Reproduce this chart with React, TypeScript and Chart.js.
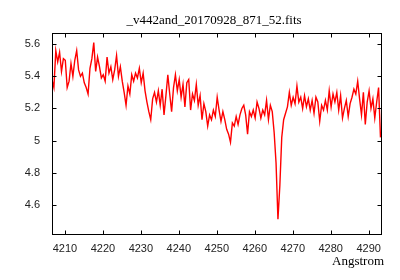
import React, { useEffect, useRef } from "react";
import { Chart, registerables } from "chart.js";

Chart.register(...registerables);

const titleText = "_v442and_20170928_871_52.fits";
const xAxisLabel = "Angstrom";

const wavelengths = [
  4206.6, 4207.1, 4207.6, 4208.1, 4208.6, 4209.1, 4209.6, 4210.1, 4210.6, 4211.1,
  4211.6, 4212.1, 4212.6, 4213.1, 4213.6, 4214.1, 4214.6, 4215.1, 4215.6, 4216.1,
  4216.6, 4217.1, 4217.6, 4218.1, 4218.6, 4219.1, 4219.6, 4220.1, 4220.6, 4221.1,
  4221.6, 4222.1, 4222.6, 4223.1, 4223.6, 4224.1, 4224.6, 4225.1, 4225.6, 4226.1,
  4226.6, 4227.1, 4227.6, 4228.1, 4228.6, 4229.1, 4229.6, 4230.1, 4230.6, 4231.1,
  4231.6, 4232.1, 4232.6, 4233.1, 4233.6, 4234.1, 4234.6, 4235.1, 4235.6, 4236.1,
  4236.6, 4237.1, 4237.6, 4238.1, 4238.6, 4239.1, 4239.6, 4240.1, 4240.6, 4241.1,
  4241.6, 4242.1, 4242.6, 4243.1, 4243.6, 4244.1, 4244.6, 4245.1, 4245.6, 4246.1,
  4246.6, 4247.1, 4247.6, 4248.1, 4248.6, 4249.1, 4249.6, 4250.1, 4250.6, 4251.1,
  4251.6, 4252.1, 4252.6, 4253.1, 4253.6, 4254.1, 4254.6, 4255.1, 4255.6, 4256.1,
  4256.6, 4257.1, 4257.6, 4258.1, 4258.6, 4259.1, 4259.6, 4260.1, 4260.6, 4261.1,
  4261.6, 4262.1, 4262.6, 4263.1, 4263.6, 4264.1, 4264.6, 4265.1, 4265.6, 4266.1,
  4266.6, 4267.1, 4267.6, 4268.1, 4268.6, 4269.1, 4269.6, 4270.1, 4270.6, 4271.1,
  4271.6, 4272.1, 4272.6, 4273.1, 4273.6, 4274.1, 4274.6, 4275.1, 4275.6, 4276.1,
  4276.6, 4277.1, 4277.6, 4278.1, 4278.6, 4279.1, 4279.6, 4280.1, 4280.6, 4281.1,
  4281.6, 4282.1, 4282.6, 4283.1, 4283.6, 4284.1, 4284.6, 4285.1, 4285.6, 4286.1,
  4286.6, 4287.1, 4287.6, 4288.1, 4288.6, 4289.1, 4289.6, 4290.1, 4290.6, 4291.1,
  4291.6, 4292.1, 4292.6, 4293.1,
];

const flux = [
  5.38, 5.33, 5.56, 5.49, 5.55, 5.43, 5.51, 5.5, 5.33, 5.37,
  5.48, 5.4, 5.5, 5.56, 5.44, 5.4, 5.42, 5.36, 5.33, 5.29,
  5.45, 5.51, 5.61, 5.43, 5.52, 5.46, 5.39, 5.41, 5.37, 5.52,
  5.42, 5.46, 5.38, 5.44, 5.53, 5.4, 5.46, 5.37, 5.3, 5.22,
  5.34, 5.29, 5.41, 5.37, 5.42, 5.39, 5.45, 5.36, 5.42, 5.31,
  5.24, 5.18, 5.13, 5.26, 5.3, 5.24, 5.31, 5.22, 5.32, 5.16,
  5.28, 5.41, 5.29, 5.18, 5.33, 5.41, 5.31, 5.38, 5.27, 5.35,
  5.21, 5.36, 5.38, 5.19, 5.29, 5.25, 5.35, 5.22, 5.28, 5.13,
  5.23, 5.18, 5.09, 5.16, 5.13, 5.19, 5.15, 5.27, 5.19, 5.12,
  5.18, 5.13, 5.07, 5.04, 4.99, 5.11, 5.09, 5.15, 5.1, 5.16,
  5.2, 5.22, 5.16, 5.04, 5.18, 5.15, 5.19, 5.14, 5.24, 5.2,
  5.14, 5.19, 5.16, 5.25, 5.13, 5.22, 5.18, 5.05, 4.86, 4.51,
  4.72, 5.02, 5.13, 5.17, 5.21, 5.3, 5.22, 5.27, 5.23, 5.34,
  5.24, 5.27, 5.2, 5.28, 5.21, 5.26, 5.19, 5.25, 5.17, 5.27,
  5.24, 5.12, 5.22, 5.19, 5.25, 5.19, 5.31, 5.21, 5.29, 5.24,
  5.3, 5.19, 5.28, 5.14, 5.2, 5.25, 5.15, 5.23, 5.27, 5.32,
  5.29, 5.37, 5.26, 5.16, 5.3, 5.1, 5.24, 5.31, 5.2, 5.26,
  5.14, 5.24, 5.33, 5.02,
];

const tickFont = { family: "'Liberation Sans', Arial, sans-serif", size: 11 };

export default function App() {
  const ref = useRef<HTMLCanvasElement | null>(null);

  useEffect(() => {
    document.body.style.margin = "0";
    if (!ref.current) return;

    const framePlugin = {
      id: "gnuplotFrame",
      afterDraw(chart: any) {
        const ctx = chart.ctx;
        const { left, right, top, bottom } = chart.chartArea;
        const L = Math.floor(left) + 0.5;
        const R = Math.floor(right) - 0.5;
        const T = Math.floor(top) + 0.5;
        const B = Math.floor(bottom) + 0.5;
        const tl = 4;
        ctx.save();
        ctx.strokeStyle = "#000";
        ctx.lineWidth = 1;
        ctx.strokeRect(L, T, R - L, B - T);
        ctx.beginPath();
        const xs = chart.scales.x;
        xs.ticks.forEach((t: any) => {
          if (t.value < xs.min || t.value > xs.max) return;
          const p = Math.round(xs.getPixelForValue(t.value)) + 0.5;
          ctx.moveTo(p, B);
          ctx.lineTo(p, B - tl);
          ctx.moveTo(p, T);
          ctx.lineTo(p, T + tl);
        });
        const ys = chart.scales.y;
        ys.ticks.forEach((t: any) => {
          if (t.value < ys.min || t.value > ys.max) return;
          const p = Math.round(ys.getPixelForValue(t.value)) + 0.5;
          ctx.moveTo(L, p);
          ctx.lineTo(L + tl, p);
          ctx.moveTo(R, p);
          ctx.lineTo(R - tl, p);
        });
        ctx.stroke();

        ctx.fillStyle = "#000";
        ctx.font = "13px 'Liberation Serif', 'DejaVu Serif', serif";
        ctx.textAlign = "center";
        ctx.textBaseline = "alphabetic";
        ctx.fillText(titleText, 214, 24);
        ctx.textAlign = "right";
        ctx.fillText(xAxisLabel, 384, 265);
        ctx.restore();
      },
    };

    const chart = new Chart(ref.current, {
      type: "line",
      data: {
        datasets: [
          {
            data: wavelengths.map((x, i) => ({ x, y: flux[i] })),
            borderColor: "#ff0000",
            borderWidth: 1.4,
            pointRadius: 0,
            tension: 0,
            fill: false,
          },
        ],
      },
      options: {
        animation: false,
        responsive: false,
        devicePixelRatio: 1,
        layout: { padding: { top: 33, right: 18, left: 0, bottom: 0 } },
        plugins: {
          legend: { display: false },
          tooltip: { enabled: false },
          title: { display: false },
        },
        scales: {
          x: {
            type: "linear",
            min: 4206.6,
            max: 4293.5,
            afterFit: (s: any) => {
              s.height = 46;
            },
            grid: { display: false, drawTicks: false },
            border: { display: false },
            ticks: {
              stepSize: 10,
              includeBounds: false,
              padding: 8,
              maxRotation: 0,
              autoSkip: false,
              font: tickFont,
              color: "#222",
              callback: (v: any) => String(Math.round(Number(v))),
            },
          },
          y: {
            type: "linear",
            min: 4.418,
            max: 5.67,
            afterFit: (s: any) => {
              s.width = 52;
            },
            grid: { display: false, drawTicks: false },
            border: { display: false },
            ticks: {
              stepSize: 0.2,
              includeBounds: false,
              padding: 12,
              autoSkip: false,
              font: tickFont,
              color: "#222",
              callback: (v: any) => String(Math.round(Number(v) * 10) / 10),
            },
          },
        },
      },
      plugins: [framePlugin],
    } as any);

    return () => chart.destroy();
  }, []);

  return (
    <div style={{ width: 400, height: 280 }}>
      <canvas ref={ref} width={400} height={280} style={{ display: "block" }} />
    </div>
  );
}
